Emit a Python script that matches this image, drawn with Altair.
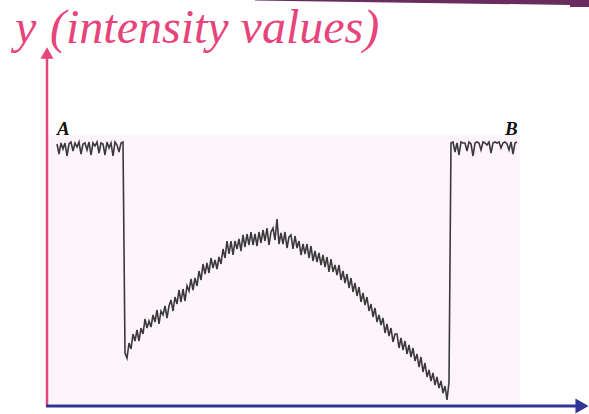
import altair as alt
import pandas as pd

# ---- data: intensity profile along the line A -> B (sampled every 2 px) ----
profile_a = [261, 251, 262, 256, 262, 249, 261, 263, 254, 262, 258, 263, 251, 261,
             262, 255, 263, 250, 262, 259, 263, 252, 262, 261, 250, 263, 257, 262,
             249, 263, 260, 253, 262, 263]
profile_mid = [
    52, 47, 62, 56, 71, 64,
    75, 64, 77, 71, 86, 77, 84,
    78, 90, 83, 95, 81, 94, 90, 99,
    87, 99, 105, 94, 108, 101, 115,
    103, 116, 104, 119, 114,
    126, 115, 127, 119, 134,
    125, 141, 131, 142, 132,
    147, 137, 145, 136, 148,
    141, 156, 147, 164,
    151, 164, 150, 164, 156, 166,
    154, 170, 158, 171, 160,
    173, 160, 171, 159, 173,
    162, 175, 164, 177, 160, 173, 177,
    165, 186, 161, 172, 161, 173, 157, 168,
    170, 156, 169, 157, 164, 150, 161,
    151, 161, 147, 159, 144, 154, 143, 152,
    140, 150, 138, 148, 133, 146, 133, 140,
    130, 140, 125, 134, 122, 131, 117,
    127, 113, 122, 109, 118, 103, 112, 100,
    108, 94, 101, 88, 97, 83, 90,
    80, 87, 72, 81, 69, 77, 63, 71,
    71, 57, 67, 55, 64, 51, 60,
    48, 57, 44, 51, 38,
    48, 33, 42, 28, 35,
    24, 32, 20, 28, 17,
    24, 12, 19, 5, 23,
]
profile_b = [262, 263, 253, 262, 250, 263, 262, 262, 254, 263, 261, 249, 262, 263,
             262, 255, 263, 262, 260, 263, 252, 262, 263, 262, 263, 257, 262, 263,
             261, 255, 263, 251, 262, 263]

intensity = profile_a + profile_mid + profile_b
position = list(range(len(intensity)))

title_y = "y"
title_rest = "(intensity values)"
label_a = "A"
label_b = "B"

df = pd.DataFrame({"pos": position, "val": intensity})
one = pd.DataFrame({"k": [0]})

PINK = "#e6447b"
BLUE = "#2f3596"
PURPLE = "#6a2c5e"
SERIF = "Liberation Serif, Times New Roman, serif"

# decorative band at the top right (pixel geometry)
band = pd.DataFrame({"bx": [255, 570, 570, 589], "btop": [0, 0, 0, 0], "bbot": [0.5, 5, 7, 7]})

bg = alt.Chart(one).mark_rect(color="#fdf4fc").encode(
    x=alt.value(47), x2=alt.value(520), y=alt.value(135), y2=alt.value(404))

band_layer = alt.Chart(band).mark_area(color=PURPLE).encode(
    x=alt.X("bx:Q", scale=None), y=alt.Y("btop:Q", scale=None), y2="bbot:Q")

line = alt.Chart(df).mark_line(color="#3a3a3a", strokeWidth=1.6).encode(
    x=alt.X("pos:Q", scale=alt.Scale(domain=[0, len(intensity) - 1], range=[57, 517]), axis=None),
    y=alt.Y("val:Q", scale=alt.Scale(domain=[0, 270], range=[405, 135]), axis=None),
)

v_axis = alt.Chart(one).mark_rule(color=PINK, strokeWidth=2.5).encode(
    x=alt.value(47), y=alt.value(57), y2=alt.value(406))
v_head = alt.Chart(one).mark_point(shape="triangle-up", filled=True, color=PINK,
                                   size=170, opacity=1).encode(
    x=alt.value(47), y=alt.value(53))
h_axis = alt.Chart(one).mark_rule(color=BLUE, strokeWidth=3).encode(
    x=alt.value(46), x2=alt.value(578), y=alt.value(406))
h_head = alt.Chart(one).mark_point(shape="triangle-right", filled=True, color=BLUE,
                                   size=230, opacity=1).encode(
    x=alt.value(582), y=alt.value(406))

t1 = alt.Chart(one).mark_text(text=title_y, font=SERIF, fontStyle="italic",
                              fontSize=48, color=PINK, align="left", baseline="alphabetic").encode(
    x=alt.value(15), y=alt.value(43))
t2 = alt.Chart(one).mark_text(text=title_rest, font=SERIF, fontStyle="italic",
                              fontSize=48, color=PINK, align="left", baseline="alphabetic").encode(
    x=alt.value(50), y=alt.value(43))
la = alt.Chart(one).mark_text(text=label_a, font=SERIF, fontStyle="italic",
                              fontWeight="bold", fontSize=19, color="#111111", align="left",
                              baseline="alphabetic").encode(x=alt.value(57), y=alt.value(135))
lb = alt.Chart(one).mark_text(text=label_b, font=SERIF, fontStyle="italic",
                              fontWeight="bold", fontSize=19, color="#111111", align="left",
                              baseline="alphabetic").encode(x=alt.value(505), y=alt.value(135))

chart = alt.layer(bg, band_layer, line, v_axis, v_head, h_axis, h_head, t1, t2, la, lb).properties(
    width=589, height=414, autosize=alt.AutoSizeParams(type="none"), padding=0,
    background="white",
).configure_view(stroke=None)

chart.save("out.html", embed_options={"renderer": "svg", "actions": False})
